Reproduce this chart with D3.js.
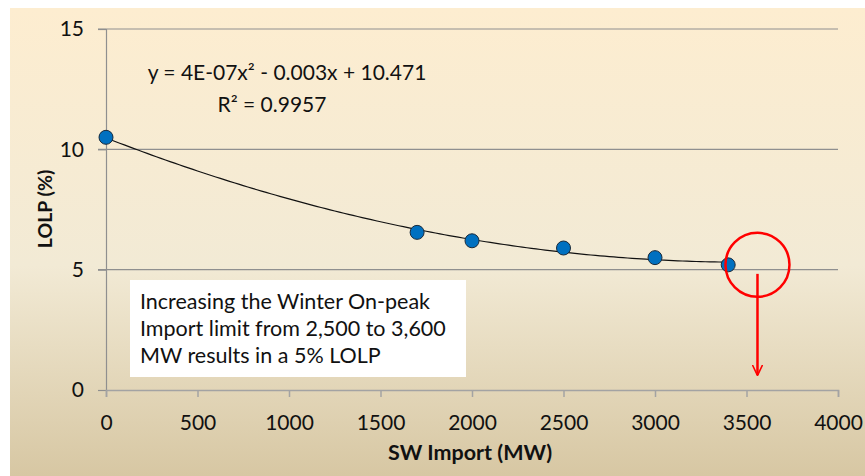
<!DOCTYPE html>
<html>
<head>
<meta charset="utf-8">
<script src="https://cdn.jsdelivr.net/npm/d3@7"></script>
<style>
  body { margin: 0; background: #fff; }
  text { font-family: Lato, "Open Sans", sans-serif; fill: #111; }
</style>
</head>
<body>
<div id="chart"></div>
<script>
var width = 865;
var height = 476;

// data
var importMW = [0, 1700, 2000, 2500, 3000, 3400];
var lolp = [10.5, 6.55, 6.2, 5.9, 5.5, 5.2];
var xTicks = [0, 500, 1000, 1500, 2000, 2500, 3000, 3500, 4000];
var yTicks = [0, 5, 10, 15];
var noteLines = ["Increasing the Winter On-peak", "Import limit from 2,500 to 3,600", "MW results in a 5% LOLP"];
var circleAt = [3560, 5.2];

var points = importMW.map((d, i) => ({x: d, y: lolp[i]}));

var svg = d3.select("#chart")
            .append("svg")
            .attr("width", width)
            .attr("height", height);

var defs = svg.append("defs");
var grad = defs.append("linearGradient")
            .attr("id", "bg")
            .attr("x1", 0).attr("y1", 0).attr("x2", 0).attr("y2", 1);
grad.append("stop").attr("offset", "0%").attr("stop-color", "#fdedd0");
grad.append("stop").attr("offset", "55%").attr("stop-color", "#f2ead5");
grad.append("stop").attr("offset", "100%").attr("stop-color", "#d7c7a3");

svg.append("rect")
    .attr("x", 10).attr("y", 8)
    .attr("width", width - 10).attr("height", height - 8)
    .attr("fill", "url(#bg)");

var x = d3.scaleLinear().domain([0, 4000]).range([106, 838]);
var y = d3.scaleLinear().domain([0, 15]).range([390, 29]);

// horizontal gridlines
svg.append("g")
    .selectAll("line")
    .data(yTicks.filter(d => d > 0))
    .join("line")
    .attr("x1", x(0) - 8).attr("x2", x(4000))
    .attr("y1", d => y(d)).attr("y2", d => y(d))
    .attr("stroke", "#8f8f8f")
    .attr("stroke-width", 1.2);

// y axis
var yAxis = svg.append("g")
    .attr("transform", `translate(${x(0)},0)`)
    .call(d3.axisLeft(y).tickValues(yTicks).tickSize(8).tickPadding(14));
yAxis.select(".domain").attr("stroke", "#8f8f8f").attr("stroke-width", 1.2);
yAxis.selectAll(".tick line").attr("stroke", "#8f8f8f").attr("stroke-width", 1.2);
yAxis.selectAll(".tick text").attr("font-size", 21).attr("fill", "#111");

// x axis
var xAxis = svg.append("g")
    .attr("transform", `translate(0,${y(0)})`)
    .call(d3.axisBottom(x).tickValues(xTicks).tickFormat(d3.format("d"))
          .tickSize(7).tickSizeOuter(7).tickPadding(18));
xAxis.select(".domain").attr("stroke", "#a3a3a3").attr("stroke-width", 1.5);
xAxis.selectAll(".tick line").attr("stroke", "#a3a3a3").attr("stroke-width", 1.5);
xAxis.selectAll(".tick text").attr("font-size", 21).attr("fill", "#111");

// axis titles
svg.append("text")
    .attr("x", 470).attr("y", 460)
    .attr("text-anchor", "middle")
    .attr("font-size", 21.5).attr("font-weight", "bold")
    .text("SW Import (MW)");

svg.append("text")
    .attr("transform", "translate(52,209) rotate(-90)")
    .attr("text-anchor", "middle")
    .attr("font-size", 19.5).attr("font-weight", "bold")
    .text("LOLP (%)");

// quadratic trendline (least squares on the points)
function quadFit(pts) {
    var s = [0, 0, 0, 0, 0], t = [0, 0, 0];
    pts.forEach(p => {
        var xs = p.x / 1000;
        for (var k = 0; k < 5; k++) s[k] += Math.pow(xs, k);
        for (var k = 0; k < 3; k++) t[k] += p.y * Math.pow(xs, k);
    });
    var m = [[s[0], s[1], s[2], t[0]], [s[1], s[2], s[3], t[1]], [s[2], s[3], s[4], t[2]]];
    for (var i = 0; i < 3; i++) {
        for (var j = i + 1; j < 3; j++) {
            var f = m[j][i] / m[i][i];
            for (var k = i; k < 4; k++) m[j][k] -= f * m[i][k];
        }
    }
    var c = [0, 0, 0];
    for (var i = 2; i >= 0; i--) {
        var v = m[i][3];
        for (var k = i + 1; k < 3; k++) v -= m[i][k] * c[k];
        c[i] = v / m[i][i];
    }
    return xv => c[0] + c[1] * (xv / 1000) + c[2] * Math.pow(xv / 1000, 2);
}
var fit = quadFit(points);
var curve = d3.range(0, 3401, 25).map(v => ({x: v, y: fit(v)}));

var lineGenerator = d3.line()
                      .x(d => x(d.x))
                      .y(d => y(d.y));

svg.append("path")
    .attr("d", lineGenerator(curve))
    .attr("fill", "none")
    .attr("stroke", "#111")
    .attr("stroke-width", 1.2);

svg.append("g")
    .selectAll("circle")
    .data(points)
    .join("circle")
    .attr("cx", d => x(d.x))
    .attr("cy", d => y(d.y))
    .attr("r", 7)
    .attr("fill", "#0070c0")
    .attr("stroke", "#1a2a3a")
    .attr("stroke-width", 1);

// equation labels
svg.append("text")
    .attr("x", 287).attr("y", 80)
    .attr("text-anchor", "middle")
    .attr("font-size", 21)
    .text("y = 4E-07x² - 0.003x + 10.471");
svg.append("text")
    .attr("x", 272).attr("y", 112)
    .attr("text-anchor", "middle")
    .attr("font-size", 21)
    .text("R² = 0.9957");

// note box
svg.append("rect")
    .attr("x", 130).attr("y", 280)
    .attr("width", 336).attr("height", 97)
    .attr("fill", "#fff");
svg.append("g")
    .selectAll("text")
    .data(noteLines)
    .join("text")
    .attr("x", 140)
    .attr("y", (d, i) => 309 + i * 27)
    .attr("font-size", 21.5)
    .text(d => d);

// red circle and arrow
var cx = x(circleAt[0]), cy = y(circleAt[1]);
svg.append("circle")
    .attr("cx", cx).attr("cy", cy).attr("r", 32)
    .attr("fill", "none")
    .attr("stroke", "#ff0000")
    .attr("stroke-width", 2.5);

defs.append("marker")
    .attr("id", "arrow")
    .attr("viewBox", "0 0 10 10")
    .attr("refX", 9).attr("refY", 5)
    .attr("markerWidth", 4.5).attr("markerHeight", 4.5)
    .attr("markerUnits", "strokeWidth")
    .attr("orient", "auto")
    .append("path")
    .attr("d", "M0,0.5 L9.5,5 L0,9.5")
    .attr("fill", "none")
    .attr("stroke", "#ff0000")
    .attr("stroke-width", 1.4);

svg.append("line")
    .attr("x1", cx).attr("y1", cy + 9)
    .attr("x2", cx).attr("y2", 375)
    .attr("stroke", "#ff0000")
    .attr("stroke-width", 2.5)
    .attr("marker-end", "url(#arrow)");
</script>
</body>
</html>
